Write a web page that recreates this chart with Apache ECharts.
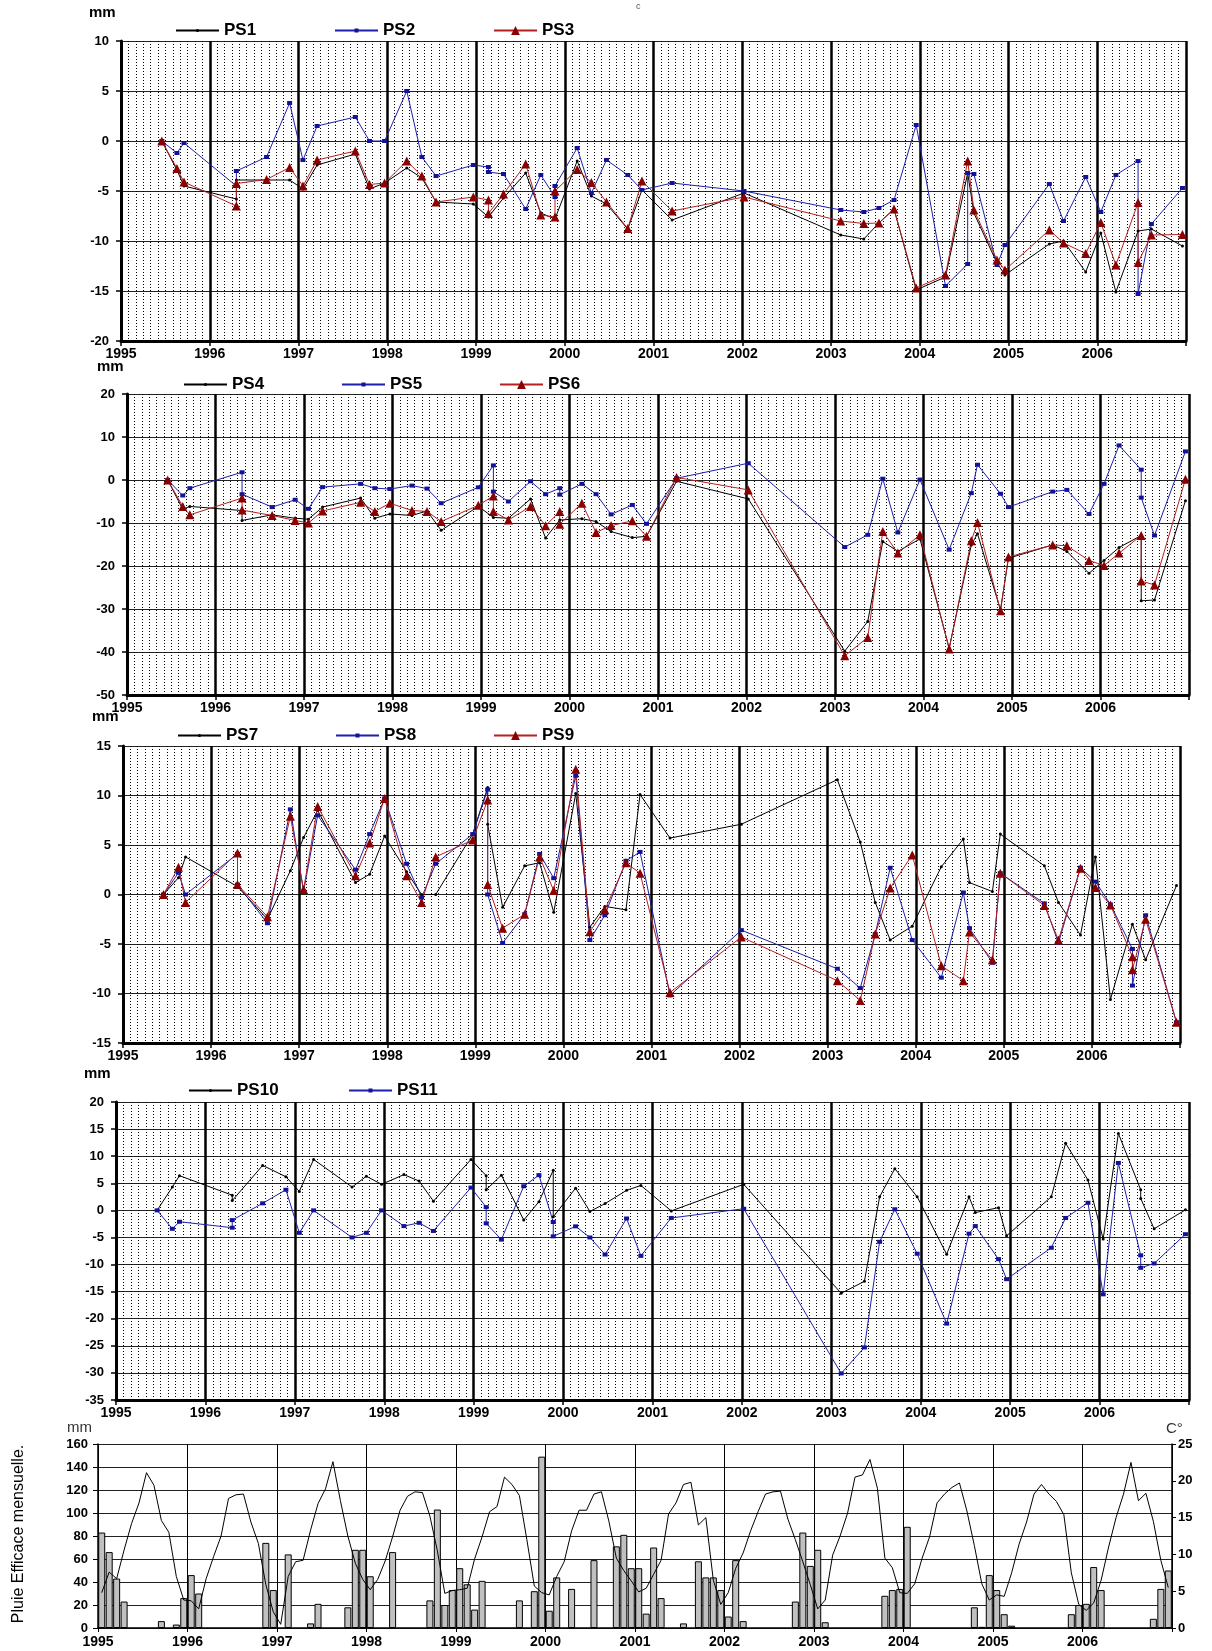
<!DOCTYPE html>
<html>
<head>
<meta charset="utf-8">
<script src="https://cdn.jsdelivr.net/npm/echarts@6/dist/echarts.min.js"></script>
<style>
html,body{margin:0;padding:0;background:#fff;}
#chart{width:1212px;height:1651px;}
</style>
</head>
<body>
<div id="chart"></div>
<script>
// ---- survey dates (decimal years) shared by all piezometers ----
const dates = [
  1995.46, 1995.63, 1995.71, 1996.30, 1996.64, 1996.90, 1997.05, 1997.21, 1997.64, 1997.80,
  1997.97, 1998.22, 1998.39, 1998.55, 1998.97, 1999.14, 1999.31, 1999.56, 1999.73, 1999.89,
  2000.14, 2000.30, 2000.47, 2000.71, 2000.87, 2001.21, 2002.02, 2003.11, 2003.37, 2003.54,
  2003.71, 2003.96, 2004.29, 2004.54, 2004.61, 2004.87, 2004.96, 2005.46, 2005.62, 2005.87,
  2006.04, 2006.21, 2006.46, 2006.61, 2006.96
];
// values in mm; a pair means two readings at the same date (vertical step)
const PS1 = [0, -2.9, -4.5, [-5.8, -3.9], -3.9, -3.9, -4.8, -2.4, -1.3, -4.8,
  -4.2, -2.7, -3.7, -6.1, -6.3, -7.6, -5.7, -3.2, -7.2, -7.8,
  -2.0, -5.5, -6.3, -8.8, -4.9, -7.9, -5.2, -9.4, -9.8, -8.2,
  -6.8, -14.9, -13.6, -3.2, -7.2, -12.2, -13.4, -10.3, -10.0, -13.1,
  -9.2, -15.1, -9.0, -8.8, -10.5];
const PS2 = [0, -1.2, -0.2, [-4.5, -3.0], -1.6, 3.8, -1.9, 1.5, 2.4, 0,
  0, 5.0, -1.6, -3.5, -2.4, [-2.6, -3.1], -3.3, -6.8, -3.4, [-5.6, -4.5],
  -0.7, -5.2, -1.9, -3.4, -4.9, -4.2, -5.0, -6.9, -7.1, -6.7,
  -5.9, 1.6, -14.5, [-12.3, -3.2], -3.3, -12.4, -10.4, -4.3, -8.0, -3.6,
  -7.1, -3.4, [-2.0, -15.3], -8.3, -4.7];
const PS3 = [0, -2.75, -4.1, [-6.5, -4.25], -3.85, -2.65, -4.5, -1.9, -1.0, -4.35,
  -4.2, -2.0, -3.5, -6.1, -5.6, [-5.9, -7.25], -5.3, -2.3, -7.4, [-7.6, -5.0],
  -2.85, -4.15, -6.1, -8.75, -4.0, -7.0, -5.6, -8.0, -8.25, -8.2,
  -6.8, -14.7, -13.4, -2.0, -6.9, -11.9, -12.9, -8.9, -10.2, -11.25,
  -8.15, -12.4, [-6.15, -12.15], -9.4, -9.35];
const PS4 = [0, -6.8, -6.15, [-7.1, -9.4], -8.1, -8.9, -9.1, -6.3, -4.2, -8.9,
  -7.9, -8.25, -7.2, -11.7, -6.15, -8.7, -8.9, -4.4, -13.5, -9.3,
  -9.0, -9.65, -12.0, -13.4, -13.1, -0.3, -4.4, -39.8, -32.9, -14.3,
  -16.6, -13.7, -39.1, -15.1, -12.5, -30.2, -18.2, -15.1, -16.6, -21.7,
  -18.7, -15.7, [-12.9, -28.1], -27.9, -4.8];
const PS5 = [0, -3.6, -1.9, [1.8, -3.3], -6.3, -4.6, -6.7, -1.65, -0.9, -1.9,
  -2.1, -1.3, -2.0, -5.4, -1.7, [3.4, -2.7], -5.0, -0.3, -3.3, [-1.9, -3.4],
  -0.9, -3.3, -8.0, -5.8, -10.2, 0.4, 3.9, -15.6, -12.75, 0.3,
  -12.2, 0.1, -16.2, -3.05, 3.55, -3.2, -6.3, -2.7, -2.3, -7.9,
  -0.9, 8.05, [2.4, -4.1], -12.9, 6.65];
const PS6 = [0, -6.15, -8.1, [-4.2, -7.0], -8.25, -9.4, -10.0, -7.2, -5.2, -7.3,
  -5.4, -7.1, -7.3, -9.65, -5.9, [-3.7, -7.3], -9.3, -6.15, -10.65, [-7.3, -10.3],
  -5.4, -12.2, -10.6, -9.5, -13.1, 0.6, -2.3, -40.9, -36.6, -12.0,
  -17.0, -12.75, -39.3, -14.15, -9.9, -30.4, -17.9, -15.1, -15.3, -18.7,
  -19.9, -17.0, [-12.9, -23.5], -24.4, 0.2];
const PS7 = [0, 1.7, 3.8, 0.8, -2.5, 2.4, 5.75, 8.5, 1.2, 2.05,
  5.9, 2.3, 0, 0, 6.1, [10.8, 7.1], -1.3, 2.9, 3.2, -1.8,
  10.2, -3.3, -1.2, -1.55, 10.1, 5.7, 7.1, 11.6, 5.3, -0.8,
  -4.6, -3.2, 2.8, 5.6, 1.2, 0.3, 6.1, 2.9, -0.8, -4.1,
  3.8, -10.6, -3.0, -6.6, 0.9];
const PS8 = [0, 2.2, 0, [4.1, 1.0], -2.9, 8.6, 0.3, 8.0, 2.5, 6.1,
  9.7, 3.1, -0.3, 3.1, 6.1, [10.6, 0], -4.9, -2.0, 4.1, 1.65,
  12.0, -4.6, -2.1, 3.4, 4.3, -10.2, -3.6, -7.5, -9.45, -4.0,
  2.7, -4.6, -8.4, 0.2, -3.4, -6.9, 2.15, -0.9, -4.9, 2.7,
  1.3, -1.0, [-5.5, -9.2], -2.1, -12.9];
const PS9 = [0, 2.75, -0.8, [4.2, 1.0], -2.25, 7.9, 0.5, 8.9, 1.9, 5.2,
  9.7, 1.9, -0.8, 3.8, 5.5, [9.55, 1.0], -3.4, -2.0, 3.8, 0.4,
  12.65, -3.75, -1.55, 3.2, 2.15, -9.9, -4.3, -8.7, -10.7, -4.0,
  0.65, 4.0, -7.2, -8.7, -3.8, -6.6, 2.15, -1.1, -4.6, 2.65,
  0.7, -1.05, [-6.3, -7.6], -2.5, -12.9];
const PS10 = [0, 4.3, 6.4, [2.8, 1.8], 8.3, 6.2, 3.5, 9.4, 4.3, 6.3,
  4.8, 6.6, 5.4, 1.7, 9.4, [6.4, 3.8], 6.5, -1.8, 1.6, [7.4, -1.2],
  4.1, -0.2, 1.25, 3.7, 4.6, -0.1, 4.8, -15.3, -13.1, 2.5,
  7.7, 2.5, -8.1, 2.5, -0.4, 0.5, -4.7, 2.5, 12.4, 5.6,
  -5.3, 14.2, [3.8, 2.2], -3.4, 0.1];
const PS11 = [0, -3.4, -2.1, [-3.2, -1.8], 1.3, 3.8, -4.15, 0, -5.0, -4.15,
  0, -2.9, -2.3, -3.8, 4.2, [0.6, -2.4], -5.4, 4.45, 6.5, [-2.15, -4.8],
  -2.95, -5.0, -8.15, -1.5, -8.4, -1.4, 0.3, -30.1, -25.3, -5.8,
  0.2, -8.0, -20.9, -4.3, -2.9, -9.0, -12.7, -6.9, -1.4, 1.4,
  -15.5, 8.75, [-8.3, -10.6], -9.8, -4.4];

// ---- monthly effective rainfall (mm), Jan 1995 .. Dec 2006, 12 per row ----
const rain = [
  83, 66, 43, 23, 0, 0, 0, 0, 6, 0, 3, 26,
  46, 30, 0, 0, 0, 0, 0, 0, 0, 0, 74, 33,
  0, 64, 0, 0, 4, 21, 0, 0, 0, 18, 68, 68,
  45, 0, 0, 66, 0, 0, 0, 0, 24, 103, 20, 33,
  52, 38, 16, 41, 0, 0, 0, 0, 24, 0, 32, 149,
  15, 44, 0, 34, 0, 0, 59, 0, 0, 71, 81, 52,
  52, 12.5, 70, 26, 0, 0, 4, 0, 58, 44, 44, 33,
  10, 59, 6, 0, 0, 0, 0, 0, 0, 23, 83, 54,
  68, 5, 0, 0, 0, 0, 0, 0, 0, 28, 33, 34,
  88, 0, 0, 0, 0, 0, 0, 0, 0, 18, 1, 46,
  33, 12, 2, 0, 0, 0, 0, 0, 0, 0, 12, 20,
  21, 53, 33, 0, 0, 0, 0, 0, 0, 8, 34, 50
];
// ---- monthly temperature (°C), Jan 1995 .. Dec 2006 ----
const temp = [
  4.8, 7.6, 6.7, 10.6, 14.2, 17.0, 21.1, 19.4, 14.6, 13.0, 7.0, 3.8,
  3.7, 2.6, 6.7, 9.7, 12.5, 17.6, 18.1, 18.2, 14.4, 11.5, 5.9, 2.2,
  0.5, 7.0, 9.0, 9.2, 13.3, 16.9, 18.9, 22.6, 17.3, 12.5, 8.8, 6.6,
  5.2, 6.6, 9.1, 12.4, 16.0, 17.9, 18.5, 18.4, 15.2, 10.5, 4.7, 5.1,
  5.2, 5.4, 9.4, 12.4, 15.8, 16.5, 20.5, 19.5, 18.0, 12.0, 5.7, 4.8,
  4.5, 7.0, 9.0, 13.2, 16.0, 16.0, 18.2, 18.5, 14.5, 9.5, 7.8, 6.4,
  4.9, 5.4, 7.3, 9.2, 15.5, 17.0, 19.5, 19.8, 14.0, 15.0, 6.5, 3.2,
  4.8, 8.1, 10.2, 13.2, 15.8, 18.2, 18.5, 18.6, 14.8, 12.0, 9.0, 5.9,
  2.6, 3.8, 9.9, 12.5, 15.6, 20.5, 20.8, 22.9, 19.0, 9.5, 8.2, 4.8,
  4.7, 6.0, 9.5, 12.4, 17.0, 18.2, 19.1, 19.7, 15.9, 11.2, 6.0, 3.8,
  4.5, 4.3, 7.5, 11.4, 14.4, 18.2, 19.5, 18.2, 17.2, 15.4, 7.5, 3.2,
  2.4, 3.4, 6.5, 11.0, 15.0, 18.2, 22.5, 17.3, 18.3, 14.5, 9.2, 5.5
];
const yearTicks = [1995, 2007];

function build(vals) {
  const out = [];
  vals.forEach((v, i) => {
    if (Array.isArray(v)) v.forEach(w => out.push([dates[i], w]));
    else out.push([dates[i], v]);
  });
  return out;
}
const monthX = i => yearTicks[0] + (i + 0.5) / 12;
const rainData = [];
rain.forEach((v, i) => { if (v > 0) rainData.push([monthX(i), v]); });
const tempData = temp.map((v, i) => [monthX(i), v]);

const FONT = 'Liberation Sans, Arial, sans-serif';
const grids = [
  {left: 121, top: 41, width: 1065, height: 300},
  {left: 127, top: 394, width: 1062, height: 301},
  {left: 123, top: 746, width: 1057, height: 297},
  {left: 116, top: 1102, width: 1073, height: 298},
  {left: 98, top: 1444, width: 1074, height: 184}
];
const yRanges = [[-20, 10, 5], [-50, 20, 10], [-15, 15, 5], [-35, 20, 5]];

function xAxisPS(gi) {
  return {
    type: 'value', gridIndex: gi, min: yearTicks[0], max: yearTicks[1], interval: 1,
    axisLine: {onZero: false, lineStyle: {color: '#000', width: 3}},
    axisTick: {show: true, length: 5, lineStyle: {color: '#000', width: 1.5}},
    axisLabel: {margin: 6, color: '#000', fontWeight: 'bold', fontSize: 14, fontFamily: FONT,
      formatter: v => (v === yearTicks[1] ? '' : String(v))},
    splitLine: {show: true, lineStyle: {color: '#000', width: 2.5}},
    minorTick: {show: false, splitNumber: 12},
    minorSplitLine: {show: true, lineStyle: {color: '#000', width: 1, type: [1, 2]}}
  };
}
function yAxisPS(gi) {
  const r = yRanges[gi];
  return {
    type: 'value', gridIndex: gi, min: r[0], max: r[1], interval: r[2],
    axisLine: {show: true, onZero: false, lineStyle: {color: '#000', width: 3}},
    axisTick: {show: true, length: 5, lineStyle: {color: '#000', width: 1.5}},
    axisLabel: {margin: 12, color: '#000', fontWeight: 'bold', fontSize: 13, fontFamily: FONT},
    splitLine: {show: true, lineStyle: {color: '#222', width: 1}}
  };
}

const BLACK = {color: '#000', symbol: 'circle', symbolSize: 3, lineColor: '#000', legendH: 4};
const BLUE = {color: '#12129a', symbol: 'rect', symbolSize: [5, 4], lineColor: '#1f1fae', legendH: 5};
const RED = {color: '#8b0000', symbol: 'triangle', symbolSize: 9, lineColor: '#b52020', legendH: 11};
function psSeries(name, vals, st, gi) {
  return {
    name: name, type: 'line', xAxisIndex: gi, yAxisIndex: gi,
    data: build(vals), symbol: st.symbol, symbolSize: st.symbolSize, showSymbol: true,
    itemStyle: {color: st.color},
    lineStyle: {color: st.lineColor, width: 1},
    emphasis: {disabled: true}
  };
}

function legendItem(name, st, left, top) {
  return {
    data: [name], left: left, top: top, itemWidth: 43, itemHeight: st.legendH, itemGap: 0,
    textStyle: {color: '#000', fontWeight: 'bold', fontSize: 17, fontFamily: FONT},
    selectedMode: false
  };
}

function txt(text, x, y, opts) {
  return Object.assign({
    type: 'text', x: x, y: y,
    style: {text: text, fill: '#000', font: 'bold 15px ' + FONT}
  }, opts || {});
}

const option = {
  animation: false,
  backgroundColor: '#fff',
  grid: grids,
  legend: [
    legendItem('PS1', BLACK, 170, 17), legendItem('PS2', BLUE, 329, 17), legendItem('PS3', RED, 488, 17),
    legendItem('PS4', BLACK, 178, 371), legendItem('PS5', BLUE, 336, 371), legendItem('PS6', RED, 494, 371),
    legendItem('PS7', BLACK, 172, 722), legendItem('PS8', BLUE, 330, 722), legendItem('PS9', RED, 488, 722),
    legendItem('PS10', BLACK, 183, 1077), legendItem('PS11', BLUE, 343, 1077)
  ],
  xAxis: [
    xAxisPS(0), xAxisPS(1), xAxisPS(2), xAxisPS(3),
    {
      type: 'value', gridIndex: 4, min: yearTicks[0], max: yearTicks[1], interval: 1,
      axisLine: {onZero: false, lineStyle: {color: '#000', width: 1.5}},
      axisTick: {show: true, length: 4, lineStyle: {color: '#000'}},
      axisLabel: {margin: 7, color: '#000', fontWeight: 'bold', fontSize: 14, fontFamily: FONT,
        formatter: v => (v === yearTicks[1] ? '' : String(v))},
      splitLine: {show: true, lineStyle: {color: '#000', width: 1}}
    }
  ],
  yAxis: [
    yAxisPS(0), yAxisPS(1), yAxisPS(2), yAxisPS(3),
    {
      type: 'value', gridIndex: 4, min: 0, max: 160, interval: 20, position: 'left',
      axisLine: {show: true, onZero: false, lineStyle: {color: '#000', width: 1.5}},
      axisTick: {show: true, length: 5, lineStyle: {color: '#000'}},
      axisLabel: {margin: 10, color: '#000', fontWeight: 'bold', fontSize: 13, fontFamily: FONT},
      splitLine: {show: true, lineStyle: {color: '#222', width: 1}}
    },
    {
      type: 'value', gridIndex: 4, min: 0, max: 25, interval: 5, position: 'right',
      axisLine: {show: true, onZero: false, lineStyle: {color: '#000', width: 1.5}},
      axisTick: {show: true, length: 4, lineStyle: {color: '#000'}},
      axisLabel: {margin: 6, color: '#000', fontWeight: 'bold', fontSize: 13, fontFamily: FONT},
      splitLine: {show: false}
    }
  ],
  series: [
    psSeries('PS1', PS1, BLACK, 0), psSeries('PS2', PS2, BLUE, 0), psSeries('PS3', PS3, RED, 0),
    psSeries('PS4', PS4, BLACK, 1), psSeries('PS5', PS5, BLUE, 1), psSeries('PS6', PS6, RED, 1),
    psSeries('PS7', PS7, BLACK, 2), psSeries('PS8', PS8, BLUE, 2), psSeries('PS9', PS9, RED, 2),
    psSeries('PS10', PS10, BLACK, 3), psSeries('PS11', PS11, BLUE, 3),
    {
      name: 'Pluie efficace', type: 'bar', xAxisIndex: 4, yAxisIndex: 4, data: rainData,
      barWidth: 7, itemStyle: {color: '#c0c0c0', borderColor: '#000', borderWidth: 1},
      emphasis: {disabled: true}
    },
    {
      name: 'Température', type: 'line', xAxisIndex: 4, yAxisIndex: 5, data: tempData,
      showSymbol: false, lineStyle: {color: '#000', width: 1}, z: 5,
      emphasis: {disabled: true}
    }
  ],
  graphic: [
    txt('mm', 89, 5),
    txt('mm', 97, 359),
    txt('mm', 92, 709),
    txt('mm', 84, 1066),
    txt('mm', 67, 1420, {style: {text: 'mm', fill: '#333', font: '15px ' + FONT}}),
    txt('C°', 1166, 1421, {style: {text: 'C°', fill: '#333', font: '15px ' + FONT}}),
    txt('c', 636, 2, {style: {text: 'c', fill: '#555', font: '9px ' + FONT}}),
    {
      type: 'text', x: 19, y: 1534, rotation: Math.PI / 2,
      style: {text: 'Pluie Efficace mensuelle.', fill: '#000', font: '16px ' + FONT,
        align: 'center', verticalAlign: 'middle', textAlign: 'center', textVerticalAlign: 'middle'}
    }
  ]
};

const chart = echarts.init(document.getElementById('chart'), null, {renderer: 'canvas'});
chart.setOption(option);
</script>
</body>
</html>
